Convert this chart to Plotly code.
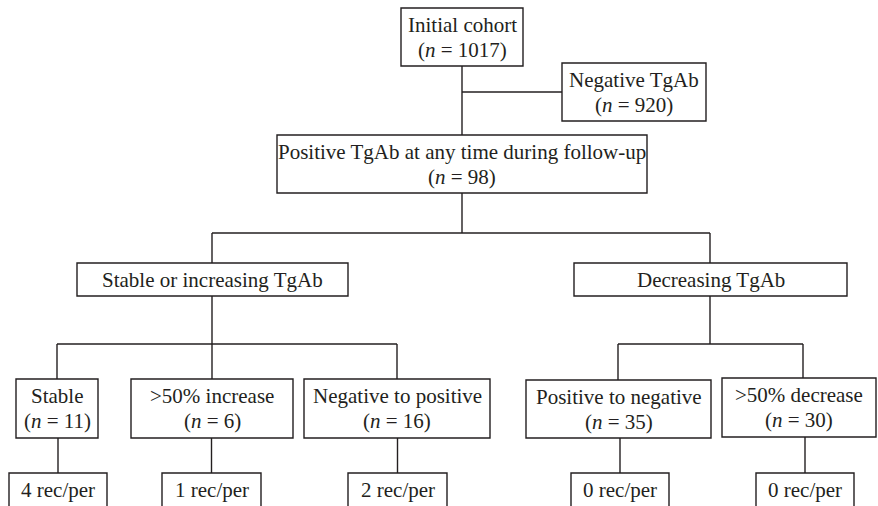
import plotly.graph_objects as go

# ---- data ----
node_titles = [
    "Initial cohort",
    "Negative TgAb",
    "Positive TgAb at any time during follow-up",
    "Stable or increasing TgAb",
    "Decreasing TgAb",
    "Stable",
    ">50% increase",
    "Negative to positive",
    "Positive to negative",
    ">50% decrease",
]
node_n = [1017, 920, 98, None, None, 11, 6, 16, 35, 30]
leaf_nodes = [5, 6, 7, 8, 9]
recurrences = [4, 1, 2, 0, 0]

# ---- layout geometry (page-pixel coordinates) ----
# box: (x0, x1, y0, y1)
boxes = [
    (401, 523, 8, 66),
    (562, 706, 63, 121),
    (277, 647, 135, 193),
    (77, 348, 263, 296),
    (574, 847, 263, 296),
    (16, 98, 379, 438),
    (131, 293, 379, 438),
    (304, 490, 379, 438),
    (526, 711, 380, 438),
    (722, 876, 378, 437),
]
rec_boxes = [
    (9, 107, 473, 512),
    (162, 261, 473, 512),
    (348, 447, 473, 512),
    (571, 669, 473, 512),
    (756, 854, 473, 512),
]

LC = "#231f20"
LW = 1.4
FONT = dict(family="Liberation Serif, Times New Roman, serif", size=21, color=LC)
HALF_GAP = 12.5

shapes = []
annotations = []

def rect(b):
    shapes.append(dict(type="rect", xref="x", yref="y", x0=b[0], x1=b[1], y0=b[2], y1=b[3],
                       line=dict(color=LC, width=LW), fillcolor="rgba(0,0,0,0)", layer="above"))

def seg(x0, y0, x1, y1):
    shapes.append(dict(type="line", xref="x", yref="y", x0=x0, y0=y0, x1=x1, y1=y1,
                       line=dict(color=LC, width=LW), layer="above"))

def label(x, y, t):
    annotations.append(dict(x=x, y=y, xref="x", yref="y", text=t, showarrow=False,
                            font=FONT, xanchor="center", yanchor="middle"))

for i, b in enumerate(boxes):
    rect(b)
    xc = (b[0] + b[1]) / 2
    yc = (b[2] + b[3]) / 2
    if node_n[i] is not None:
        label(xc, yc - HALF_GAP, node_titles[i])
        label(xc, yc + HALF_GAP, "(<i>n</i> = %d)" % node_n[i])
    else:
        label(xc, yc, node_titles[i])

for k, b in enumerate(rec_boxes):
    rect(b)
    label((b[0] + b[1]) / 2, 490, "%d rec/per" % recurrences[k])

def cx(b):
    return (b[0] + b[1]) / 2

# connectors
seg(462, 66, 462, 135)          # initial -> positive
seg(462, 92, 562, 92)           # branch to negative
seg(462, 193, 462, 233)         # positive down
seg(212, 233, 710, 233)         # split
seg(212, 233, 212, 263)
seg(710, 233, 710, 263)
seg(212, 296, 212, 344)         # stable/increasing down
seg(57, 344, 397, 344)
seg(57, 344, 57, 379)
seg(212, 344, 212, 379)
seg(397, 344, 397, 379)
seg(710, 296, 710, 344)         # decreasing down
seg(618, 344, 803, 344)
seg(618, 344, 618, 380)
seg(803, 344, 803, 378)
for li, rb in zip(leaf_nodes, rec_boxes):
    x = cx(rb)
    seg(x, boxes[li][3], x, rb[2])

fig = go.Figure()
fig.add_trace(go.Scatter(x=[0, 878], y=[0, 506], mode="markers",
                         marker=dict(opacity=0), hoverinfo="skip", showlegend=False))
fig.update_layout(
    width=878, height=506,
    margin=dict(l=0, r=0, t=0, b=0),
    paper_bgcolor="white", plot_bgcolor="white",
    xaxis=dict(range=[0, 878], visible=False, fixedrange=True),
    yaxis=dict(range=[506, 0], visible=False, fixedrange=True),
    shapes=shapes, annotations=annotations, showlegend=False,
)
fig.write_html(
    "out.html",
    config={"displayModeBar": False},
    post_script="document.body.style.margin='0';document.body.style.overflow='hidden';",
)
